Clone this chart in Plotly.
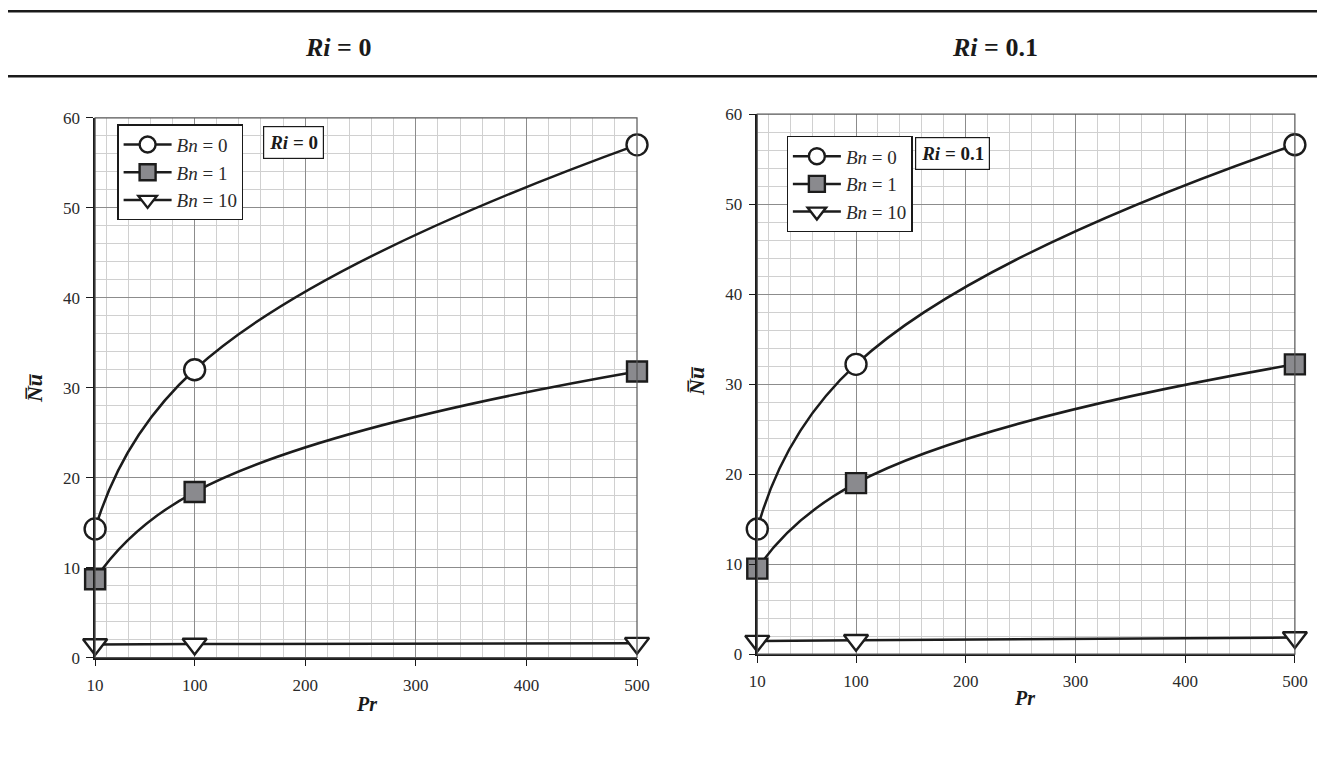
import plotly.graph_objects as go

# The page is captured in a slightly larger viewport and then resized to 1325x757,
# with the default 8px body margin; positions below are given in final-picture pixels.
VIEW_W, VIEW_H = 1346, 776
SX, SY = VIEW_W / 1325, VIEW_H / 757
BODY_M = 8
W, H = VIEW_W - 2 * BODY_M, VIEW_H - 2 * BODY_M

pr = [10, 100, 500]
# Ri = 0
nu_ri0_bn0 = [14.3, 32.0, 57.0]
nu_ri0_bn1 = [8.7, 18.4, 31.8]
nu_ri0_bn10 = [1.45, 1.5, 1.6]
# Ri = 0.1
nu_ri01_bn0 = [13.9, 32.2, 56.6]
nu_ri01_bn1 = [9.5, 19.0, 32.2]
nu_ri01_bn10 = [1.45, 1.55, 1.85]

x_ticks = [10, 100, 200, 300, 400, 500]
y_ticks = [0, 10, 20, 30, 40, 50, 60]
series_names = ["<i>Bn</i> = 0", "<i>Bn</i> = 1", "<i>Bn</i> = 10"]
panel_titles = ["<b><i>Ri</i> = 0</b>", "<b><i>Ri</i> = 0.1</b>"]

FONT = "Liberation Serif"
LINEC = "#1c1c1c"
symbols = ["circle", "square", "triangle-down"]
fills = ["white", "#8a8a8e", "white"]
msizes = [21, 20, 21]

def px_x(v):
    return (v * SX - BODY_M) / W

def px_y(v):
    return 1 - (v * SY - BODY_M) / H

fig = go.Figure()

panels = [
    dict(data=[nu_ri0_bn0, nu_ri0_bn1, nu_ri0_bn10], xa="x", ya="y", legend="legend"),
    dict(data=[nu_ri01_bn0, nu_ri01_bn1, nu_ri01_bn10], xa="x2", ya="y2", legend="legend2"),
]

for p in panels:
    for i, ys in enumerate(p["data"]):
        fig.add_trace(go.Scatter(
            x=pr, y=ys, mode="lines+markers",
            name=series_names[i],
            xaxis=p["xa"], yaxis=p["ya"], legend=p["legend"],
            line=dict(color=LINEC, width=2.5, shape="spline", smoothing=1.3),
            marker=dict(symbol=symbols[i], size=msizes[i],
                        color=fills[i], line=dict(color=LINEC, width=2.4)),
            cliponaxis=False,
        ))

def xaxis_cfg(domain, anchor):
    return dict(
        domain=domain, anchor=anchor, range=[10, 500],
        tickmode="array", tickvals=x_ticks, ticktext=[str(v) for v in x_ticks],
        showgrid=True, gridcolor="#8c8c8c", gridwidth=1,
        minor=dict(tick0=0, dtick=20, showgrid=True, gridcolor="#d0d0d0", gridwidth=1.3, ticks=""),
        showline=True, linecolor="#1a1a1a", linewidth=1.5,
        ticks="outside", ticklen=7, tickcolor="#1a1a1a", tickwidth=1.2,
        ticklabelstandoff=4,
        tickfont=dict(family=FONT, size=17, color="#2a2a2a"),
        zeroline=False, fixedrange=True,
    )

def yaxis_cfg(domain, anchor):
    return dict(
        domain=domain, anchor=anchor, range=[0, 60],
        tickmode="array", tickvals=y_ticks, ticktext=[str(v) for v in y_ticks],
        showgrid=True, gridcolor="#8c8c8c", gridwidth=1,
        minor=dict(tick0=0, dtick=2, showgrid=True, gridcolor="#d0d0d0", gridwidth=1.3, ticks=""),
        showline=True, linecolor="#1a1a1a", linewidth=1.5,
        ticks="outside", ticklen=7, tickcolor="#1a1a1a", tickwidth=1.2,
        ticklabelstandoff=3,
        tickfont=dict(family=FONT, size=17, color="#2a2a2a"),
        zeroline=False, fixedrange=True,
    )

xd1 = [px_x(95), px_x(637)]
yd1 = [px_y(656.7), px_y(116.7)]
xd2 = [px_x(757.3), px_x(1295)]
yd2 = [px_y(653.3), px_y(113)]

legend_common = dict(
    bgcolor="white", bordercolor="#1a1a1a", borderwidth=1.2,
    font=dict(family=FONT, size=19, color="#2a2a2a"),
    xanchor="left", yanchor="top", tracegroupgap=0, itemwidth=48,
    itemsizing="trace",
)

shapes = []
for xr, yr in [("x domain", "y domain"), ("x2 domain", "y2 domain")]:
    shapes.append(dict(type="rect", xref=xr, yref=yr, x0=0, x1=1, y0=0, y1=1,
                       line=dict(color="#555555", width=1.2), layer="above"))
for yy in [10, 75]:
    shapes.append(dict(type="line", xref="paper", yref="paper", x0=0, x1=1,
                       y0=px_y(yy), y1=px_y(yy), line=dict(color="#1a1a1a", width=2.5)))

annotations = []
def ann(text, cx, cy, size, **kw):
    d = dict(text=text, x=px_x(cx), y=px_y(cy), xref="paper", yref="paper",
             xanchor="center", yanchor="middle", showarrow=False,
             font=dict(family=FONT, size=size, color="#1a1a1a"))
    d.update(kw)
    annotations.append(d)

for t, cx in zip(panel_titles, [338, 995]):
    ann(t, cx, 46, 26)
for t, cx, cy in zip(panel_titles, [293.3, 952.8], [141.5, 152.5]):
    ann(t, cx, cy, 19, bgcolor="white", bordercolor="#1a1a1a", borderwidth=1.2, borderpad=5)
for cx, cy in [(366, 703), (1025, 697)]:
    ann("<b><i>Pr</i></b>", cx, cy, 20)
for cx, cy in [(35, 387), (697, 380)]:
    ann("<b><i>N\u0305u\u0305</i></b>", cx, cy, 22, textangle=-90)

fig.update_layout(
    width=W, height=H, autosize=False,
    margin=dict(l=0, r=0, t=0, b=0),
    paper_bgcolor="white", plot_bgcolor="white",
    xaxis=xaxis_cfg(xd1, "y"), yaxis=yaxis_cfg(yd1, "x"),
    xaxis2=xaxis_cfg(xd2, "y2"), yaxis2=yaxis_cfg(yd2, "x2"),
    legend=dict(x=px_x(117.3), y=px_y(123.3), **legend_common),
    legend2=dict(x=px_x(786.7), y=px_y(135), **legend_common),
    shapes=shapes, annotations=annotations,
    showlegend=True,
)

fig.write_html("out.html", config={"displayModeBar": False})
